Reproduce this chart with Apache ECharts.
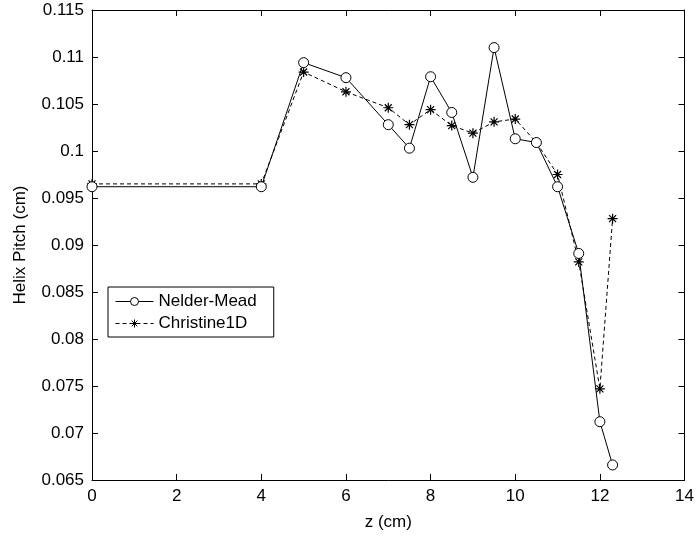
<!DOCTYPE html>
<html>
<head>
<meta charset="utf-8">
<script src="https://cdn.jsdelivr.net/npm/echarts@6/dist/echarts.min.js"></script>
<style>
html, body { margin: 0; padding: 0; background: #fff; }
#main { width: 697px; height: 538px; }
</style>
</head>
<body>
<div id="main"></div>
<script>
// values
var zNelder = [0, 4, 5, 6, 7, 7.5, 8, 8.5, 9, 9.5, 10, 10.5, 11, 11.5, 12, 12.3];
var pitchNelder = [0.0962, 0.0962, 0.1094, 0.1078, 0.1028, 0.1003, 0.1079, 0.1041, 0.0972, 0.1110, 0.1013, 0.1009, 0.0962, 0.0891, 0.0712, 0.0666];
var zChristine = [0, 4, 5, 6, 7, 7.5, 8, 8.5, 9, 9.5, 10, 10.5, 11, 11.5, 12, 12.3];
var pitchChristine = [0.0965, 0.0965, 0.1084, 0.1063, 0.1046, 0.1028, 0.1044, 0.1027, 0.1019, 0.1031, 0.1034, 0.1009, 0.0975, 0.0882, 0.0747, 0.0928];

var seriesNames = ['Nelder-Mead', 'Christine1D'];
var xTitle = 'z (cm)';
var yTitle = 'Helix Pitch (cm)';

function pairs(xs, ys) {
    var out = [];
    for (var i = 0; i < xs.length; i++) out.push([xs[i], ys[i]]);
    return out;
}

var font = 'Arial, "Liberation Sans", sans-serif';
var fs = 17;
var starPath = 'path://M0,-5L0,5M-5,0L5,0M-3.5,-3.5L3.5,3.5M-3.5,3.5L3.5,-3.5';

var myChart = echarts.init(document.getElementById('main'));

var xBase = {
    type: 'value', min: 0, max: 14, interval: 2,
    axisLine: { onZero: false, lineStyle: { color: '#000', width: 1 } },
    axisTick: { inside: true, length: 6, lineStyle: { color: '#000' } },
    splitLine: { show: false }
};
var yBase = {
    type: 'value', min: 0.065, max: 0.115, interval: 0.005,
    axisLine: { onZero: false, lineStyle: { color: '#000', width: 1 } },
    axisTick: { inside: true, length: 6, lineStyle: { color: '#000' } },
    splitLine: { show: false }
};

option = {
    backgroundColor: '#fff',
    animation: false,
    textStyle: { fontFamily: font },
    grid: { left: 92, right: 8, top: 10, bottom: 58, containLabel: false },
    legend: {
        data: seriesNames,
        orient: 'vertical',
        left: 108,
        top: 287,
        itemGap: 5,
        itemWidth: 38,
        itemHeight: 10,
        padding: [6, 17, 5, 7],
        borderColor: '#000',
        borderWidth: 1,
        backgroundColor: '#fff',
        lineStyle: { width: 1 },
        itemStyle: { borderWidth: 1 },
        textStyle: { color: '#000', fontSize: fs, fontFamily: font }
    },
    xAxis: [
        Object.assign({}, xBase, {
            position: 'bottom',
            name: xTitle, nameLocation: 'middle', nameGap: 34,
            nameTextStyle: { color: '#000', fontSize: fs, fontFamily: font },
            axisLabel: { color: '#000', fontSize: fs, margin: 8, fontFamily: font }
        }),
        Object.assign({}, xBase, { position: 'top', axisLabel: { show: false } })
    ],
    yAxis: [
        Object.assign({}, yBase, {
            position: 'left',
            name: yTitle, nameLocation: 'middle', nameGap: 63, nameRotate: 90,
            nameTextStyle: { color: '#000', fontSize: fs, fontFamily: font },
            axisLabel: {
                color: '#000', fontSize: fs, margin: 8, fontFamily: font,
                formatter: function (v) { return String(parseFloat(v.toFixed(3))); }
            }
        }),
        Object.assign({}, yBase, { position: 'right', axisLabel: { show: false } })
    ],
    series: [
        {
            name: seriesNames[0],
            type: 'line',
            data: pairs(zNelder, pitchNelder),
            symbol: 'circle',
            symbolSize: 10,
            showAllSymbol: true,
            lineStyle: { color: '#000', width: 1, type: 'solid' },
            itemStyle: { color: '#fff', borderColor: '#000', borderWidth: 1 },
            z: 3
        },
        {
            name: seriesNames[1],
            type: 'line',
            data: pairs(zChristine, pitchChristine),
            symbol: starPath,
            symbolSize: 10,
            showAllSymbol: true,
            lineStyle: { color: '#000', width: 1, type: [4, 3] },
            itemStyle: { color: 'none', borderColor: '#000', borderWidth: 1.2 },
            z: 2
        }
    ]
};

myChart.setOption(option);
</script>
</body>
</html>
